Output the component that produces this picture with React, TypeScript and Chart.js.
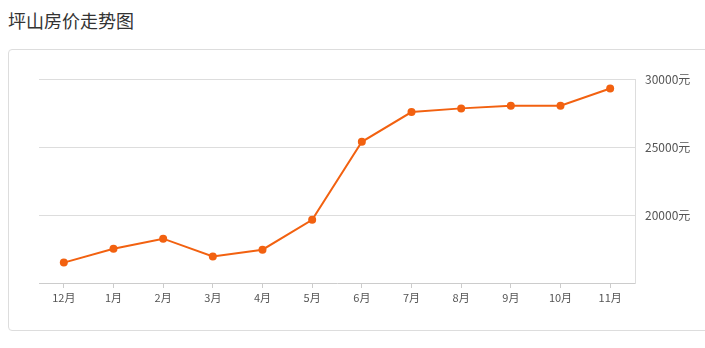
import React, { useEffect, useRef } from "react";
import { Chart, registerables } from "chart.js";

Chart.register(...registerables);

const title = "坪山房价走势图";
const months = ["12月", "1月", "2月", "3月", "4月", "5月", "6月", "7月", "8月", "9月", "10月", "11月"];
const prices = [16500, 17520, 18260, 16950, 17450, 19650, 25380, 27570, 27840, 28030, 28030, 29300];
const yMin = 15000;
const yMax = 30000;
const yStep = 5000;
const yUnit = "元";

const FONT = "'Noto Sans CJK SC', 'Microsoft YaHei', sans-serif";
const LINE = "#f26110";

export default function App() {
  const ref = useRef<HTMLCanvasElement | null>(null);

  useEffect(() => {
    if (!ref.current) return;
    const chart = new Chart(ref.current, {
      type: "line",
      data: {
        labels: months,
        datasets: [
          {
            data: prices,
            borderColor: LINE,
            backgroundColor: LINE,
            pointBackgroundColor: LINE,
            pointBorderColor: LINE,
            pointBorderWidth: 0,
            pointRadius: 4,
            pointHoverRadius: 4,
            borderWidth: 2,
            tension: 0,
            fill: false,
          },
        ],
      },
      options: {
        animation: false,
        responsive: false,
        maintainAspectRatio: false,
        layout: { padding: { left: 39, top: 29, bottom: 17, right: 0 } },
        plugins: { legend: { display: false }, tooltip: { enabled: false } },
        scales: {
          x: {
            type: "category",
            offset: true,
            afterFit: (s: any) => {
              s.height = 30;
            },
            grid: {
              offset: false,
              drawOnChartArea: false,
              drawTicks: true,
              tickLength: 5,
              color: "#ccc",
            },
            border: { display: true, color: "#ccc" },
            ticks: {
              color: "#555",
              font: { size: 11, family: FONT },
              padding: 3,
              maxRotation: 0,
            },
          },
          y: {
            position: "right",
            min: yMin,
            max: yMax,
            afterFit: (s: any) => {
              s.width = 70;
            },
            grid: { color: "#ddd", drawTicks: false },
            border: { display: true, color: "#ddd" },
            ticks: {
              stepSize: yStep,
              color: "#555",
              padding: 10,
              font: { size: 12, family: FONT },
              callback: (v: any) => (Number(v) === yMin ? null : `${v}${yUnit}`),
            },
          },
        },
      },
    });
    return () => chart.destroy();
  }, []);

  return (
    <div style={{ position: "fixed", left: 0, top: 0, width: 705, height: 348, background: "#fff", overflow: "hidden" }}>
      <div
        style={{
          position: "absolute",
          left: 8,
          top: 7,
          fontFamily: FONT,
          fontSize: 18,
          lineHeight: "26px",
          color: "#333",
          whiteSpace: "nowrap",
        }}
      >
        {title}
      </div>
      <div
        style={{
          position: "absolute",
          left: 8,
          top: 49,
          width: 720,
          height: 282,
          border: "1px solid #ddd",
          borderRadius: 4,
          boxSizing: "border-box",
        }}
      />
      <canvas ref={ref} width={705} height={280} style={{ position: "absolute", left: 0, top: 50, width: 705, height: 280 }} />
    </div>
  );
}
